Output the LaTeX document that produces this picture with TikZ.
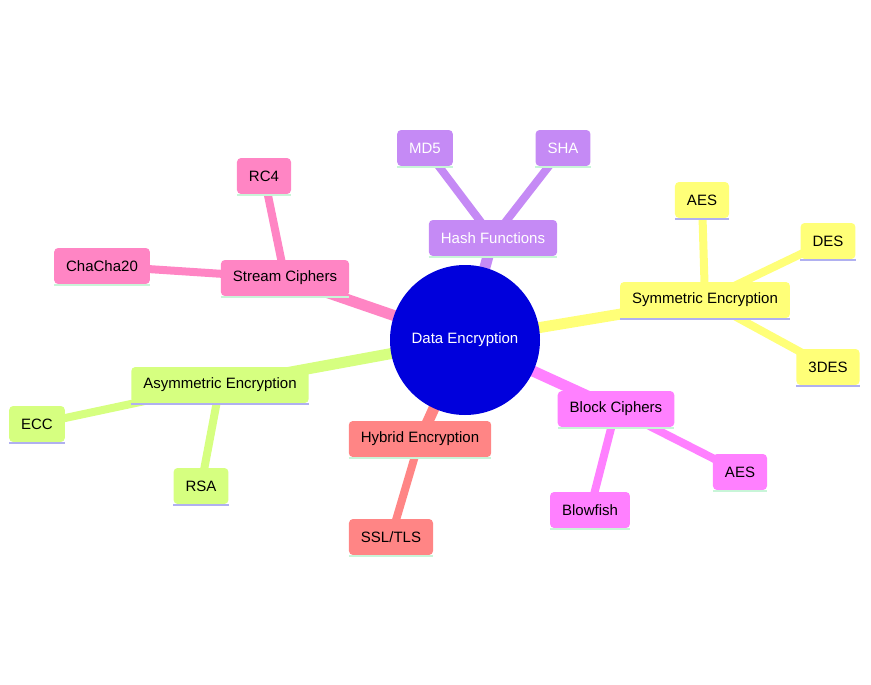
\documentclass[tikz,border=0pt]{standalone}
\usepackage{fontspec}
\setmainfont{Liberation Sans}
\definecolor{cpurple}{HTML}{C58AF5}
\definecolor{cyellow}{HTML}{FFFF78}
\definecolor{cmagenta}{HTML}{FF80FF}
\definecolor{csalmon}{HTML}{FF8585}
\definecolor{cgreen}{HTML}{D6FF80}
\definecolor{cpink}{HTML}{FF85C4}
\definecolor{lineblue}{HTML}{B0B0F0}
\definecolor{linegreen}{HTML}{C8F5D8}
\tikzset{
    mbox/.style={rounded corners=4pt, minimum height=36pt, inner xsep=12pt, font=\fontsize{15}{18}\selectfont},
    trunk/.style={line width=11pt},
    twig/.style={line width=8pt},
}
\newcommand{\mnode}[5]{% name, pos, fill, underline, text
    \node[mbox, fill=#3] (#1) at #2 {#5};
    \draw[#4, line width=2.5pt] ([yshift=-1pt]#1.south west) -- ([yshift=-1pt]#1.south east);
}
\begin{document}
\begin{tikzpicture}[x=1pt,y=-1pt]
        \useasboundingbox (0,0) rectangle (871,685);

        % branches from the centre
        \draw[trunk, cpurple] (465,340) -- (493,238);
        \draw[trunk, cyellow] (465,340) -- (705,300);
        \draw[trunk, cmagenta] (465,340) -- (616,409);
        \draw[trunk, csalmon] (465,340) -- (420,439);
        \draw[trunk, cgreen] (465,340) -- (220,385);
        \draw[trunk, cpink] (465,340) -- (285,278);

        % leaves
        \draw[twig, cpurple] (493,238) -- (425,148);
        \draw[twig, cpurple] (493,238) -- (563,148);
        \draw[twig, cyellow] (705,300) -- (702,200);
        \draw[twig, cyellow] (705,300) -- (828,241);
        \draw[twig, cyellow] (705,300) -- (828,367);
        \draw[twig, cmagenta] (616,409) -- (740,472);
        \draw[twig, cmagenta] (616,409) -- (590,510);
        \draw[twig, csalmon] (420,439) -- (391,537);
        \draw[twig, cgreen] (220,385) -- (37,424);
        \draw[twig, cgreen] (220,385) -- (201,486);
        \draw[twig, cpink] (285,278) -- (264,176);
        \draw[twig, cpink] (285,278) -- (102,266);

        \node[circle, fill={rgb,255:red,0;green,0;blue,220}, minimum size=150pt, text=white, font=\fontsize{15}{18}\selectfont] (root) at (465,340) {Data Encryption};

        \mnode{hash}{(493,238)}{cpurple}{linegreen}{\color{white}Hash Functions}
        \mnode{md}{(425,148)}{cpurple}{linegreen}{\color{white}MD5}
        \mnode{sha}{(563,148)}{cpurple}{linegreen}{\color{white}SHA}

        \mnode{sym}{(705,300)}{cyellow}{lineblue}{Symmetric Encryption}
        \mnode{aesa}{(702,200)}{cyellow}{lineblue}{AES}
        \mnode{des}{(828,241)}{cyellow}{lineblue}{DES}
        \mnode{tdes}{(828,367)}{cyellow}{lineblue}{3DES}

        \mnode{block}{(616,409)}{cmagenta}{linegreen}{Block Ciphers}
        \mnode{aesb}{(740,472)}{cmagenta}{linegreen}{AES}
        \mnode{blow}{(590,510)}{cmagenta}{linegreen}{Blowfish}

        \mnode{hyb}{(420,439)}{csalmon}{linegreen}{Hybrid Encryption}
        \mnode{ssl}{(391,537)}{csalmon}{linegreen}{SSL/TLS}

        \mnode{asym}{(220,385)}{cgreen}{lineblue}{Asymmetric Encryption}
        \mnode{ecc}{(37,424)}{cgreen}{lineblue}{ECC}
        \mnode{rsa}{(201,486)}{cgreen}{lineblue}{RSA}

        \mnode{stream}{(285,278)}{cpink}{linegreen}{Stream Ciphers}
        \mnode{rc}{(264,176)}{cpink}{linegreen}{RC4}
        \mnode{chacha}{(102,266)}{cpink}{linegreen}{ChaCha20}
\end{tikzpicture}
\end{document}
